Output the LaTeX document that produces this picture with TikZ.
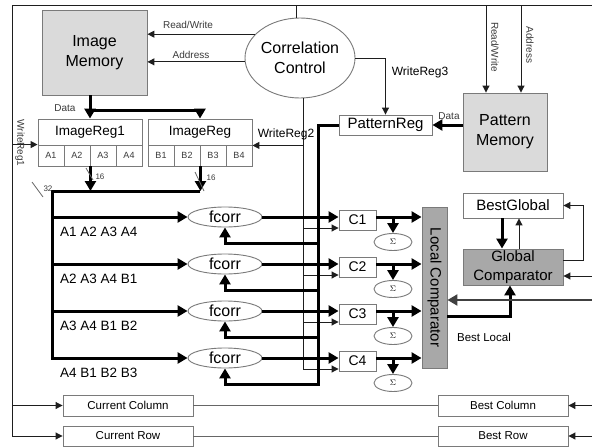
\documentclass[tikz,border=0pt]{standalone}
\usepackage{fontspec}
\setmainfont{Liberation Sans}
\usetikzlibrary{arrows.meta,shapes.geometric}

\definecolor{memfill}{HTML}{DADADA}
\definecolor{cmpfill}{HTML}{A8A8A8}
\definecolor{edge}{HTML}{7A7A7A}
\definecolor{wire}{HTML}{1E1E1E}
\definecolor{labgray}{HTML}{3A3A3A}

% font sizes used in the block diagram
\newcommand\fbig{\fontsize{16}{20}\selectfont}
\newcommand\fgc{\fontsize{15}{19}\selectfont}
\newcommand\freg{\fontsize{13.5}{16}\selectfont}
\newcommand\fpreg{\fontsize{15}{17}\selectfont}
\newcommand\fcell{\fontsize{9}{10}\selectfont}
\newcommand\fseq{\fontsize{13.5}{16}\selectfont}
\newcommand\fwr{\fontsize{12}{14}\selectfont}
\newcommand\ftiny{\fontsize{8}{9}\selectfont}
\newcommand\flab{\fontsize{10}{12}\selectfont}
\newcommand\fbot{\fontsize{11.5}{13}\selectfont}
\newcommand\fcc{\fontsize{14}{16}\selectfont}

\tikzset{
  blk/.style={draw=edge, line width=0.9pt, inner sep=0pt, align=center},
  mem/.style={blk, fill=memfill, font=\fbig},
  cmp/.style={blk, fill=cmpfill},
  oval/.style={ellipse, draw=edge, line width=0.9pt, inner sep=0pt},
  wthin/.style={draw=wire, line width=1pt},
  wpale/.style={draw=black!60, line width=0.8pt},
  wthick/.style={draw=black, line width=3pt},
  tipthin/.style={-{Triangle[length=7pt,width=7pt]}},
  tipthick/.style={-{Triangle[length=10pt,width=11pt]}},
  lab/.style={text=labgray, inner sep=0pt}
}

\begin{document}
\begin{tikzpicture}[x=1pt,y=-1pt]
\useasboundingbox (0,0) rectangle (592,447);
\fill[white] (0,0) rectangle (592,447);

% frame corners
\coordinate (tl) at (12,5);
\coordinate (tr) at (592,5);

% memories and control
\node[mem, minimum width=105pt, minimum height=85pt] (imem) at (94.5,52.5) {Image\\Memory};
\node[oval, minimum width=110pt, minimum height=80pt] (ctrl) at (300,58) {};
\node[font=\fbig, align=center, inner sep=0pt] (ctrltxt) at (ctrl.center) {Correlation\\Control};
\node[mem, minimum width=84pt, minimum height=78pt] (pmem) at (505,132) {Pattern\\Memory};
\node[blk, minimum width=93pt, minimum height=20pt, font=\fpreg] (preg) at (385.5,125) {PatternReg};

% image registers
\node[blk, minimum width=104pt, minimum height=26pt, font=\freg] (ir1) at (90,132) {ImageReg1};
\node[blk, minimum width=104pt, minimum height=26pt, font=\freg] (ir2) at (200,132) {ImageReg};
\foreach \i/\x in {1/51,2/77,3/103,4/129}
  \node[blk, minimum width=26pt, minimum height=21pt, font=\fcell, text=labgray] (a\i) at (\x,155.5) {A\i};
\foreach \i/\x in {1/161,2/187,3/213,4/239}
  \node[blk, minimum width=26pt, minimum height=21pt, font=\fcell, text=labgray] (b\i) at (\x,155.5) {B\i};

% correlators, counters and sums
\foreach \i/\y in {1/217,2/264,3/311,4/358}{
  \node[oval, minimum width=74pt, minimum height=20pt, font=\fbig] (f\i) at (225,\y) {fcorr};
  \node[blk, minimum width=37pt, minimum height=20pt, font=\fcc] (c\i) at (357.5,\y+3) {C\i};
  \node[oval, minimum width=38pt, minimum height=17pt, font=\ftiny] (s\i) at (393,\y+25) {$\Sigma$};
}

% comparators
\node[cmp, minimum width=25pt, minimum height=161pt] (lc) at (434.5,287.5) {};
\node[rotate=-90, font=\fgc, inner sep=0pt] (lctxt) at (lc.center) {Local Comparator};
\node[blk, minimum width=100pt, minimum height=25pt, font=\fgc] (bg) at (513,205.5) {BestGlobal};
\node[cmp, minimum width=100pt, minimum height=36pt, font=\fgc] (gc) at (513,267) {Global\\Comparator};

% position registers
\node[blk, minimum width=130pt, minimum height=21pt, font=\fbot] (cc) at (128,405.5) {Current Column};
\node[blk, minimum width=130pt, minimum height=20pt, font=\fbot] (cr) at (128,436) {Current Row};
\node[blk, minimum width=130pt, minimum height=21pt, font=\fbot] (bc) at (503,405.5) {Best Column};
\node[blk, minimum width=130pt, minimum height=20pt, font=\fbot] (br) at (503,436) {Best Row};

% control frame
\draw[wthin, tipthin] (tr) -- (tl) -- (tl |- cr.west) -- (cr.west);
\draw[wthin, tipthin] (tl |- cc.west) -- (cc.west);
\draw[wthin, tipthin] (tl |- a1.north west) -- (a1.north west);
\draw[wthin] (ctrl.95) -- (ctrl.95 |- tl);

% image memory control and data
\draw[wthin, tipthin] (ctrl.152) -- (ctrl.152 -| imem.east);
\draw[wthin, tipthin] (ctrl.184) -- (ctrl.184 -| imem.east);
\coordinate (dsplit) at (90,110);
\draw[wthick, tipthick] (dsplit |- imem.south) -- (ir1.north);
\draw[wthick, tipthick] (dsplit) -| (ir2.north);

% write strobes
\foreach \i in {1,2,3,4}
  \coordinate (ct\i) at ([yshift=-8pt]c\i.west);
\draw[wthin, tipthin] (ctrl.-85) -- (ctrl.-85 |- ct4) -- (ct4);
\foreach \i in {1,2,3}
  \draw[wthin, tipthin] (ctrl.-85 |- ct\i) -- (ct\i);
\draw[wthin, tipthin] (ctrl.-85 |- ir2.south east) -- (ir2.south east);
\draw[wthin, tipthin] (ctrl.east) -| (preg.north);

% pattern memory
\coordinate (prw) at ([xshift=-19pt]pmem.north);
\coordinate (pad) at ([xshift=16pt]pmem.north);
\draw[wthin, tipthin] (prw |- tl) -- (prw);
\draw[wthin, tipthin] (pad |- tl) -- (pad);
\draw[wthick, tipthick] (pmem.west |- preg.east) -- (preg.east);

% pattern bus to the correlators
\coordinate (pbus) at (318,125);
\foreach \i in {1,2,3,4}
  \coordinate (ff\i) at ([yshift=-16pt]f\i.south);
\draw[wthick, tipthick] (preg.west) -- (pbus) -- (pbus |- ff4) -| (f4.south);
\foreach \i in {1,2,3}
  \draw[wthick, tipthick] (pbus |- ff\i) -| (f\i.south);

% image bus to the correlators
\coordinate (ibus) at (52,191);
\draw[wthick, tipthick] (a2.south east) -- (a2.south east |- ibus);
\draw[wthick, tipthick] (b2.south east) -- (b2.south east |- ibus);
\draw[wthick, tipthick] (b2.south east |- ibus) -- (ibus) -- (ibus |- f4.west) -- (f4.west);
\foreach \i in {1,2,3}
  \draw[wthick, tipthick] (ibus |- f\i.west) -- (f\i.west);

% bus width marks
\draw[wpale] (86,168) -- (93,180);
\draw[wpale] (195,172) -- (204,191);
\draw[wpale] (32,182) -- (43,197);
\node[lab, font=\ftiny] (w16a) at (100,177) {16};
\node[lab, font=\ftiny] (w16b) at (211,178) {16};
\node[lab, font=\ftiny] (w32) at (48,189) {32};

% correlator outputs
\foreach \i in {1,2,3,4}{
  \coordinate (co\i) at ([yshift=3pt]c\i.east);
  \draw[wthick, tipthick] (f\i.east) -- (f\i.east -| c\i.west);
  \draw[wthick, tipthick] (co\i) -- (co\i -| lc.west);
  \draw[wthick, tipthick] (s\i.north |- co\i) -- (s\i.north);
}

% global comparison
\coordinate (bgd) at ([xshift=-11pt]bg.south);
\coordinate (bgu) at ([xshift=6pt]gc.north);
\draw[wthick, tipthick] (bgd) -- (bgd |- gc.north);
\draw[wthin, tipthin] (bgu) -- (bgu |- bg.south);
\coordinate (gout) at ([yshift=7pt]gc.east);
\draw[wthin, tipthin] (gout) -- ++(20,0) |- (bg.east);
\coordinate (gin) at ([yshift=-9pt]gc.east);
\draw[wthin, tipthin] (gin -| tr) -- (gin);
\coordinate (blo) at ([yshift=-28.5pt]lc.east);
\draw[wthick, tipthick] (blo) -| ([xshift=-3pt]gc.south);
\coordinate (lin) at ([yshift=-12.5pt]lc.east);
\draw[draw=wire!85, line width=2.2pt, tipthick] (lin -| tr) -- (lin);

% position registers wiring
\draw[wpale] (cc.east) -- (bc.west);
\draw[wpale] (cr.east) -- (br.west);
\draw[wthin, tipthin] (bc.east -| tr) -- (bc.east);
\draw[wthin, tipthin] (br.east -| tr) -- (br.east);

% signal labels
\node[lab, font=\flab] (lrw) at (188,25) {Read/Write};
\node[lab, font=\flab] (lad) at (191,55) {Address};
\node[lab, font=\flab] (ld1) at (65,108) {Data};
\node[lab, font=\flab] (ld2) at (449,116) {Data};
\node[lab, font=\flab, rotate=-90] (lwr1) at (20,143) {WriteReg1};
\node[lab, font=\fwr, text=black] (lwr2) at (286,134) {WriteReg2};
\node[lab, font=\fwr, text=black] (lwr3) at (420,72) {WriteReg3};
\node[lab, font=\flab, rotate=-90] (lprw) at (495,47) {Read/Write};
\node[lab, font=\flab, rotate=-90] (lpad) at (530,45) {Address};
\node[lab, font=\fbot, text=black] (lbl) at (484,337) {Best Local};

% window labels
\node[font=\fseq, anchor=west, inner sep=0pt] (q1) at (60,232) {A1 A2 A3 A4};
\node[font=\fseq, anchor=west, inner sep=0pt] (q2) at (60,279) {A2 A3 A4 B1};
\node[font=\fseq, anchor=west, inner sep=0pt] (q3) at (60,326) {A3 A4 B1 B2};
\node[font=\fseq, anchor=west, inner sep=0pt] (q4) at (60,373) {A4 B1 B2 B3};
\end{tikzpicture}
\end{document}
